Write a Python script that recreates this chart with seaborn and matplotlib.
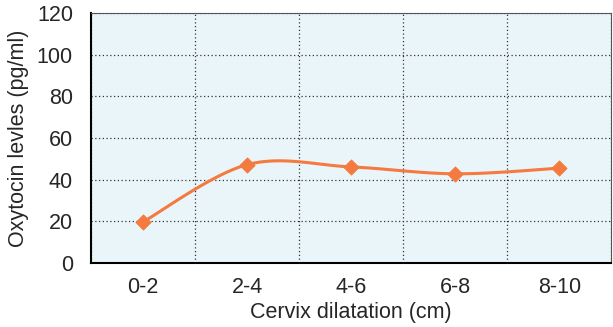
import numpy as np
import pandas as pd
import seaborn as sns
import matplotlib
matplotlib.use("Agg")
from matplotlib import pyplot as plt

# data
dilatation = ["0-2", "2-4", "4-6", "6-8", "8-10"]
oxytocin = [19.7, 47.2, 46.1, 42.8, 45.5]

df = pd.DataFrame({"pos": range(len(dilatation)), "level": oxytocin})

# smoothed curve like the spreadsheet's "smoothed line" (Catmull-Rom)
def catmull_rom(x, y, n=30):
    x = np.asarray(x, float)
    y = np.asarray(y, float)
    px = np.concatenate([[x[0]], x, [x[-1]]])
    py = np.concatenate([[y[0]], y, [y[-1]]])
    xs, ys = [], []
    for i in range(1, len(px) - 2):
        t = np.linspace(0, 1, n)
        p0, p1, p2, p3 = px[i - 1], px[i], px[i + 1], px[i + 2]
        q0, q1, q2, q3 = py[i - 1], py[i], py[i + 1], py[i + 2]
        # bezier control points
        bx = [p1, p1 + (p2 - p0) / 6, p2 - (p3 - p1) / 6, p2]
        by = [q1, q1 + (q2 - q0) / 6, q2 - (q3 - q1) / 6, q2]
        b = [(1 - t) ** 3, 3 * (1 - t) ** 2 * t, 3 * (1 - t) * t ** 2, t ** 3]
        xs.append(sum(c * w for c, w in zip(bx, b)))
        ys.append(sum(c * w for c, w in zip(by, b)))
    return np.concatenate(xs), np.concatenate(ys)

sx, sy = catmull_rom(df["pos"], df["level"])
smooth = pd.DataFrame({"pos": sx, "level": sy})

sns.set_style("white")
plt.rcParams["font.family"] = ["Liberation Sans", "DejaVu Sans"]

orange = "#F47A3F"
fig = plt.figure(figsize=(6.13, 3.27), dpi=100)
ax = fig.add_axes([0.1485, 0.196, 0.849, 0.764])
ax.set_facecolor("#EAF5FA")

sns.lineplot(data=smooth, x="pos", y="level", ax=ax, color=orange, lw=2.2, sort=False)
sns.scatterplot(data=df, x="pos", y="level", ax=ax, color=orange, marker="D", s=60,
                edgecolor=orange, zorder=5)

ax.set_xlim(-0.5, len(dilatation) - 0.5)
ax.set_ylim(0, 120)
ax.set_yticks(range(0, 121, 20))
ax.set_xticks(np.arange(-0.5, len(dilatation), 1.0))
ax.set_xticklabels([])
ax.set_xticks(range(len(dilatation)), minor=True)
ax.set_xticklabels(dilatation, minor=True)
ax.tick_params(axis="x", which="major", direction="out", length=9, width=1.3, color="black")
ax.tick_params(axis="x", which="minor", length=0, labelsize=15.5, pad=10)
ax.tick_params(axis="y", direction="out", length=9, width=1.5, color="#333333", labelsize=15.5, pad=4)
ax.grid(True, which="major", color="#333333", linestyle=(0, (1, 2)), linewidth=0.9)

for side in ["left", "bottom"]:
    ax.spines[side].set_color("black")
    ax.spines[side].set_linewidth(1.5)
for side in ["top", "right"]:
    ax.spines[side].set_color("#555555")
    ax.spines[side].set_linewidth(0.8)

ax.set_xlabel("Cervix dilatation (cm)", fontsize=15.5, labelpad=3)
ax.set_ylabel("Oxytocin levles (pg/ml)", fontsize=15.5, labelpad=6)

plt.savefig("out.png", dpi=100)
